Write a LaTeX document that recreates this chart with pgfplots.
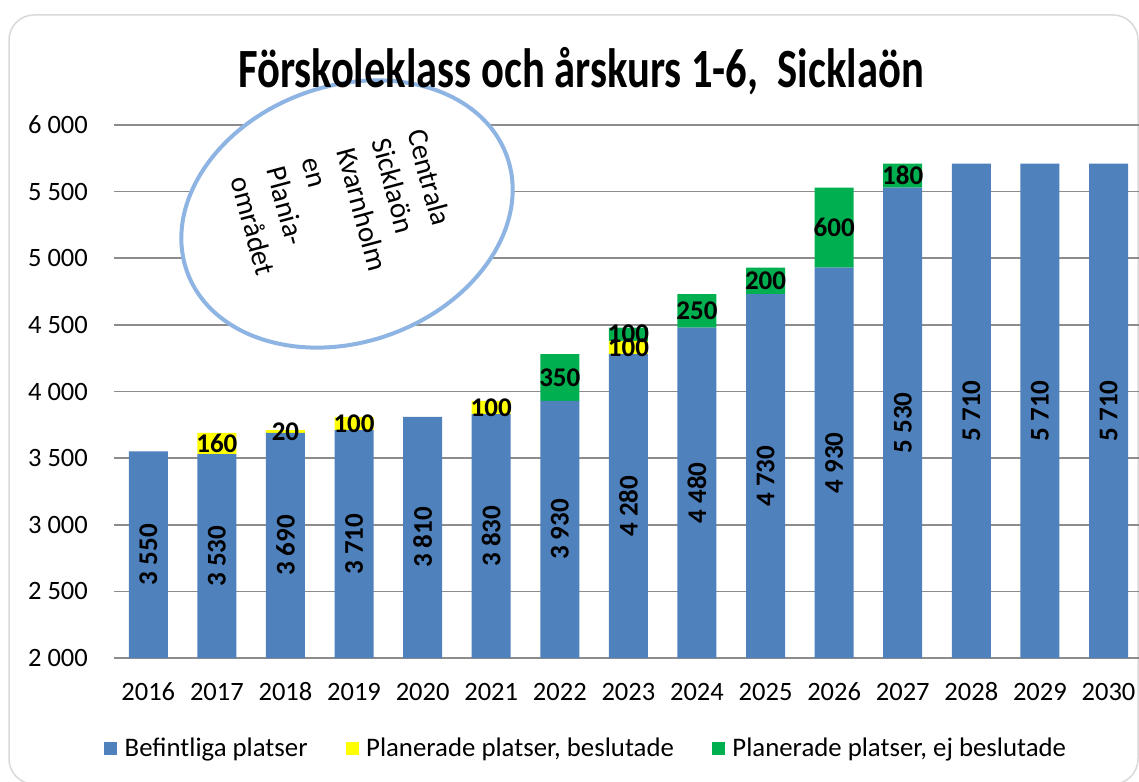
\documentclass[border=0pt]{standalone}
\usepackage{pgfplots}
\usepackage{pgfplotstable}
\pgfplotsset{compat=1.18}
\usepackage{fontspec}
\setmainfont{Carlito}
\definecolor{barblue}{HTML}{4F81BD}
\definecolor{baryellow}{HTML}{FFFF00}
\definecolor{bargreen}{HTML}{00B050}
\definecolor{gridgray}{HTML}{8C8C8C}
\definecolor{framegray}{HTML}{D9D9D9}
\definecolor{ellblue}{HTML}{8DB4E2}
\newcommand\fsA{\fontsize{26.5}{31}\selectfont}
\newcommand\fsL{\fontsize{26.8}{32}\selectfont}
\newcommand\fsB{\fontsize{27}{32}\selectfont}
\newcommand\fsT{\fontsize{42.6}{50}\selectfont}

\pgfplotstableread{
x blue yellow green
0 3550 0 0
1 3530 160 0
2 3690 20 0
3 3710 100 0
4 3810 0 0
5 3830 100 0
6 3930 0 350
7 4280 100 100
8 4480 0 250
9 4730 0 200
10 4930 0 600
11 5530 0 180
12 5710 0 0
13 5710 0 0
14 5710 0 0
}\datatable

\pgfplotstableread{
x y label
0 2775 {3 550}
1 2765 {3 530}
2 2845 {3 690}
3 2855 {3 710}
4 2905 {3 810}
5 2915 {3 830}
6 2965 {3 930}
7 3140 {4 280}
8 3240 {4 480}
9 3365 {4 730}
10 3465 {4 930}
11 3765 {5 530}
12 3855 {5 710}
13 3855 {5 710}
14 3855 {5 710}
}\bluelabels

\pgfplotstableread{
x y label
1 3610 160
2 3700 20
3 3760 100
5 3880 100
7 4330 100
6 4105 350
7 4430 100
8 4605 250
9 4830 200
10 5230 600
11 5620 180
}\toplabels

\pgfplotsset{
  base/.style={
    at={(114pt,123pt)}, anchor=south west,
    scale only axis, width=1028.8pt, height=533pt,
    xmin=-0.5, xmax=14.5, ymin=2000, ymax=6000,
  }
}

\begin{document}
\begin{tikzpicture}
\useasboundingbox (0,0) rectangle (1139pt,781pt);
\clip (0,0) rectangle (1139pt,781pt);
\fill[white] (0,0) rectangle (1139pt,781pt);
\draw[framegray, line width=1.5pt, rounded corners=25pt] (9pt,766pt) rectangle (1138pt,-3pt);

\begin{axis}[base,
  ybar stacked, bar width=39pt,
  axis line style={draw=none},
  major tick length=0pt,
  ymajorgrids, grid style={gridgray, line width=1.6pt},
  ytick={2000,2500,3000,3500,4000,4500,5000,5500,6000},
  yticklabels={2 000,2 500,3 000,3 500,4 000,4 500,5 000,5 500,6 000},
  xtick={0,...,14},
  xticklabels={2016,2017,2018,2019,2020,2021,2022,2023,2024,2025,2026,2027,2028,2029,2030},
  tick label style={font=\fsA, text=black},
  yticklabel style={anchor=east, inner sep=0pt, xshift=-26pt},
  xticklabel style={anchor=base, inner sep=0pt, yshift=-42.5pt},
  legend columns=3,
  legend style={at={(-0.0097,-0.169)}, anchor=west, draw=none, fill=none,
    font=\fsL, inner sep=0pt,
    nodes={inner sep=0pt, inner xsep=0pt},
    /tikz/every odd column/.append style={column sep=7.5pt},
    /tikz/every even column/.append style={column sep=38pt}},
  legend image code/.code={\fill[#1] (0pt,-6.5pt) rectangle (13pt,6.5pt);},
]
\addplot[fill=barblue, draw=none] table[x=x, y=blue] {\datatable};
\addlegendentry{Befintliga platser}
\addplot[fill=baryellow, draw=none] table[x=x, y=yellow] {\datatable};
\addlegendentry{Planerade platser, beslutade}
\addplot[fill=bargreen, draw=none] table[x=x, y=green] {\datatable};
\addlegendentry{Planerade platser, ej beslutade}
\end{axis}

\draw[ellblue, line width=4pt, fill=white, rotate around={20:(347pt,567pt)}]
  (347pt,567pt) ellipse [x radius=170pt, y radius=128pt];
\node[rotate=-75, align=left, font=\fontsize{29}{36.5}\selectfont, inner sep=0pt]
  at (345pt,567pt) {Centrala\\Sicklaön\\Kvarnholm\\en\\Plania-\\området};

\begin{axis}[base, hide axis, clip=false]
\addplot[only marks, mark=none, nodes near coords, point meta=explicit symbolic,
  every node near coord/.append style={anchor=center, rotate=90, font=\bfseries\fsB, inner sep=0pt}]
  table[x=x, y=y, meta=label] {\bluelabels};
\addplot[only marks, mark=none, nodes near coords, point meta=explicit symbolic,
  every node near coord/.append style={anchor=center, font=\bfseries\fsB, inner sep=0pt}]
  table[x=x, y=y, meta=label] {\toplabels};
\end{axis}

\node[font=\bfseries\fsT, anchor=base, yscale=1.3, inner sep=0pt] at (581pt,693pt) {Förskoleklass och årskurs 1-6,\ \ Sicklaön};
\end{tikzpicture}
\end{document}
